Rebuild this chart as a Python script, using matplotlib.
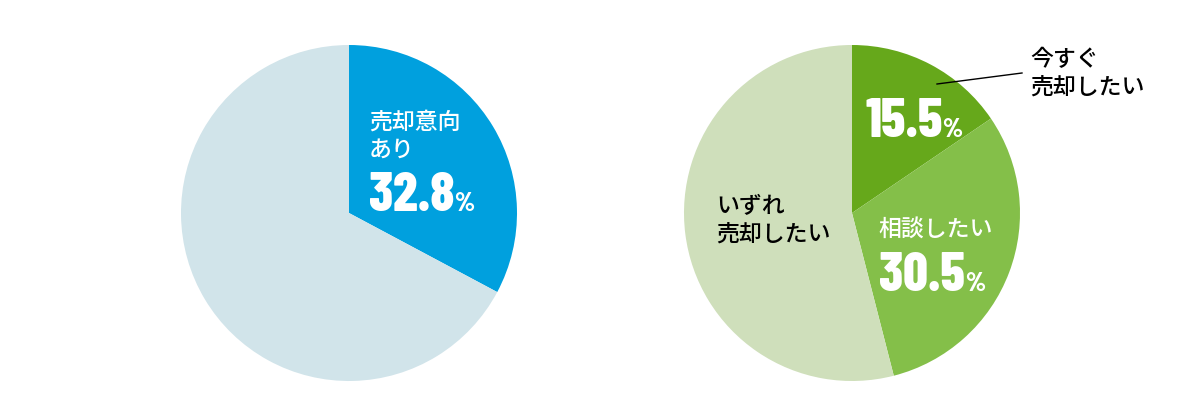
import matplotlib
matplotlib.use("Agg")
import matplotlib.pyplot as plt
from matplotlib import font_manager

plt.rcParams['font.family'] = ['Noto Sans CJK JP', 'DejaVu Sans']

# data
left_labels = ["売却意向\nあり", "その他"]
left_values = [32.8, 67.2]
left_colors = ["#00A0DE", "#D1E4EA"]

right_labels = ["今すぐ\n売却したい", "相談したい", "いずれ\n売却したい"]
right_values = [15.5, 30.5, 54.0]
right_colors = ["#66A81B", "#84BF49", "#CFDFBB"]

names = {f.name for f in font_manager.fontManager.ttflist}
num_font = "DejaVu Sans"
for cand in ["Barlow Condensed", "Roboto Condensed", "Archivo Narrow",
             "Asap Condensed", "Liberation Sans Narrow", "Roboto"]:
    if cand in names:
        num_font = cand
        break

W, H = 1200, 420
fig = plt.figure(figsize=(12, 4.2), dpi=100)
ax = fig.add_axes([0, 0, 1, 1])

R = 168
ax.pie(left_values, colors=left_colors, startangle=90, counterclock=False,
       center=(349, H - 213), radius=R, frame=True,
       wedgeprops=dict(linewidth=0))
ax.pie(right_values, colors=right_colors, startangle=90, counterclock=False,
       center=(852, H - 213), radius=R, frame=True,
       wedgeprops=dict(linewidth=0))
ax.set_xlim(0, W)
ax.set_ylim(0, H)
ax.set_aspect("equal")
ax.axis("off")


def pct_text(x, y, value):
    t = ax.text(x, H - y, f"{value:.1f}", color="white", fontsize=39,
                fontweight=800, family=num_font, va="baseline", ha="left")
    fig.canvas.draw()
    bb = t.get_window_extent()
    x_end = ax.transData.inverted().transform((bb.x1, bb.y0))[0]
    ax.text(x_end, H - y, "%", color="white", fontsize=19,
            fontweight=800, family=num_font, va="baseline", ha="left")


jp = dict(fontsize=16.5, linespacing=1.3, fontweight="medium")

# left pie
ax.text(369, H - 136, left_labels[0], color="white", va="center", ha="left", **jp)
pct_text(369, 211, left_values[0])

# right pie
pct_text(865, 137, right_values[0])
ax.text(1030, H - 74, right_labels[0], color="black", va="center", ha="left", **jp)
ax.plot([937, 1022], [H - 84, H - 73], color="black", lw=1)

ax.text(878, H - 229, right_labels[1], color="white", va="center", ha="left", **jp)
pct_text(879, 291, right_values[1])

ax.text(716, H - 221, right_labels[2], color="black", va="center", ha="left", **jp)

fig.savefig("out.png", dpi=100)
